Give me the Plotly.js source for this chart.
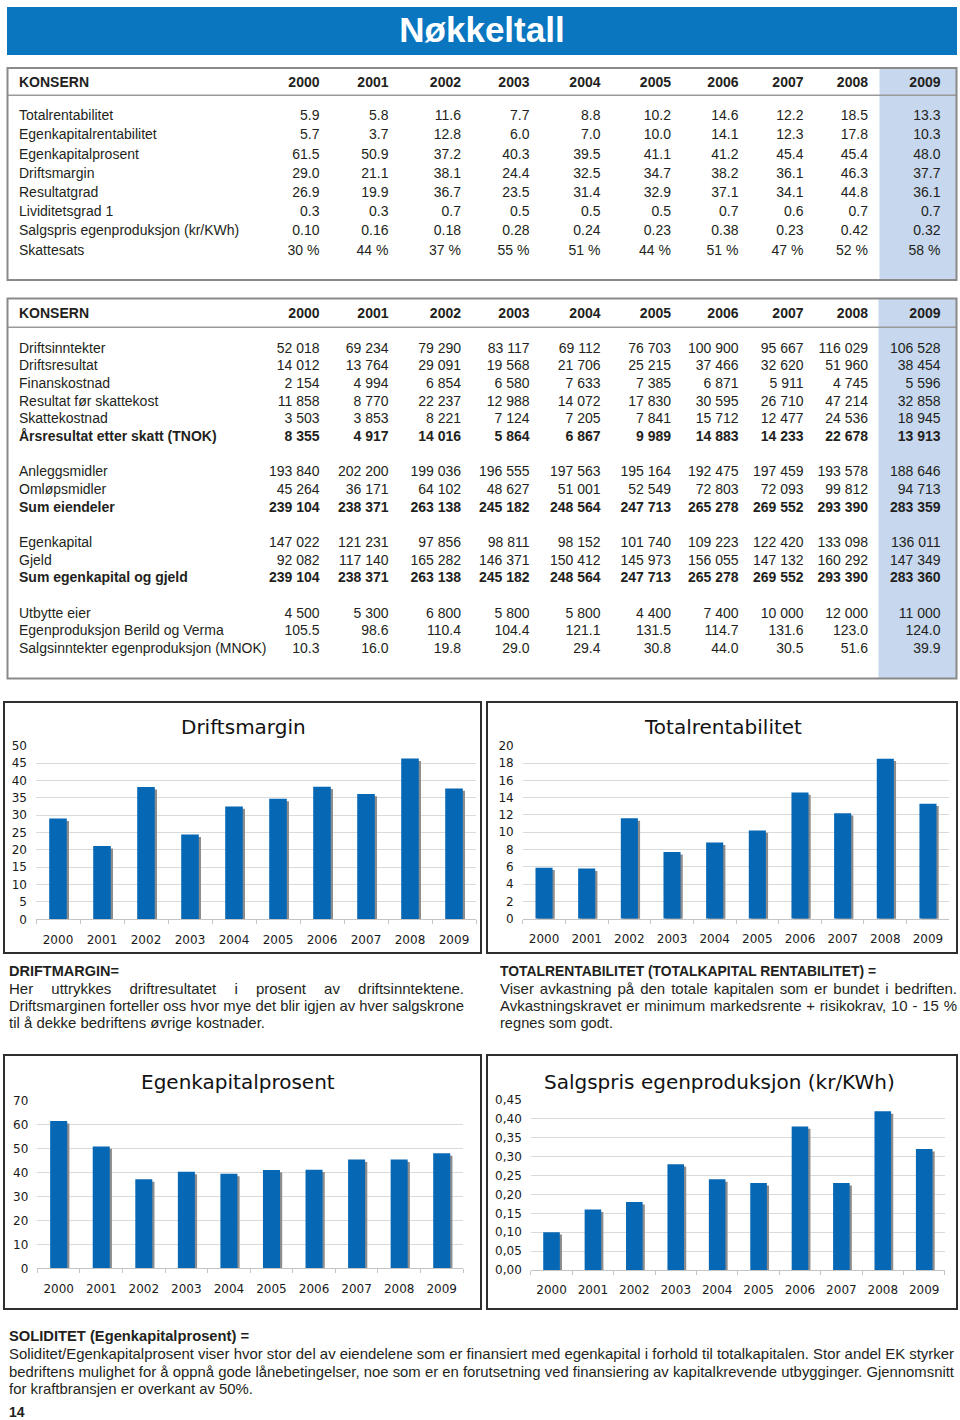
<!DOCTYPE html>
<html><head><meta charset="utf-8">
<script src="https://cdn.plot.ly/plotly-3.0.1.min.js"></script>
<style>
html,body{margin:0;padding:0;background:#fff;}
#page{position:relative;width:960px;height:1420px;overflow:hidden;background:#fff;}
#plot{position:absolute;left:0;top:0;width:960px;height:1420px;}
.banner{position:absolute;left:7px;top:7px;width:950px;height:48px;background:#0a76bf;color:#fff;font-family:'Liberation Sans',Arial,sans-serif;font-weight:bold;font-size:35px;line-height:46px;text-align:center;z-index:2;}
.ln{position:absolute;white-space:nowrap;color:#231f20;font-family:'Liberation Sans',Arial,sans-serif;z-index:2;transform-origin:0 50%;}
</style></head>
<body><div id="page"><div id="plot"></div><div class="banner">Nøkkeltall</div></div>
<script>
// ---------------- DATA ----------------
const years = ['2000','2001','2002','2003','2004','2005','2006','2007','2008','2009'];

// Table 1 (nøkkeltall)
const totalrentabilitet       = [5.9, 5.8, 11.6, 7.7, 8.8, 10.2, 14.6, 12.2, 18.5, 13.3];
const egenkapitalrentabilitet = [5.7, 3.7, 12.8, 6.0, 7.0, 10.0, 14.1, 12.3, 17.8, 10.3];
const egenkapitalprosent      = [61.5, 50.9, 37.2, 40.3, 39.5, 41.1, 41.2, 45.4, 45.4, 48.0];
const driftsmargin            = [29.0, 21.1, 38.1, 24.4, 32.5, 34.7, 38.2, 36.1, 46.3, 37.7];
const resultatgrad            = [26.9, 19.9, 36.7, 23.5, 31.4, 32.9, 37.1, 34.1, 44.8, 36.1];
const likviditetsgrad1        = [0.3, 0.3, 0.7, 0.5, 0.5, 0.5, 0.7, 0.6, 0.7, 0.7];
const salgspris               = [0.10, 0.16, 0.18, 0.28, 0.24, 0.23, 0.38, 0.23, 0.42, 0.32];
const skattesats              = [30, 44, 37, 55, 51, 44, 51, 47, 52, 58];
const table1Labels = ['Totalrentabilitet','Egenkapitalrentabilitet','Egenkapitalprosent','Driftsmargin','Resultatgrad','Lividitetsgrad 1','Salgspris egenproduksjon (kr/KWh)','Skattesats'];

// Table 2 (regnskap)
const driftsinntekter   = [52018, 69234, 79290, 83117, 69112, 76703, 100900, 95667, 116029, 106528];
const driftsresultat    = [14012, 13764, 29091, 19568, 21706, 25215, 37466, 32620, 51960, 38454];
const finanskostnad     = [2154, 4994, 6854, 6580, 7633, 7385, 6871, 5911, 4745, 5596];
const resultatForSkatt  = [11858, 8770, 22237, 12988, 14072, 17830, 30595, 26710, 47214, 32858];
const skattekostnad     = [3503, 3853, 8221, 7124, 7205, 7841, 15712, 12477, 24536, 18945];
const aarsresultat      = [8355, 4917, 14016, 5864, 6867, 9989, 14883, 14233, 22678, 13913];
const anleggsmidler     = [193840, 202200, 199036, 196555, 197563, 195164, 192475, 197459, 193578, 188646];
const omlopsmidler      = [45264, 36171, 64102, 48627, 51001, 52549, 72803, 72093, 99812, 94713];
const sumEiendeler      = [239104, 238371, 263138, 245182, 248564, 247713, 265278, 269552, 293390, 283359];
const egenkapital       = [147022, 121231, 97856, 98811, 98152, 101740, 109223, 122420, 133098, 136011];
const gjeld             = [92082, 117140, 165282, 146371, 150412, 145973, 156055, 147132, 160292, 147349];
const sumEkOgGjeld      = [239104, 238371, 263138, 245182, 248564, 247713, 265278, 269552, 293390, 283360];
const utbytteEier       = [4500, 5300, 6800, 5800, 5800, 4400, 7400, 10000, 12000, 11000];
const egenproduksjon    = [105.5, 98.6, 110.4, 104.4, 121.1, 131.5, 114.7, 131.6, 123.0, 124.0];
const salgsinntekterEgen= [10.3, 16.0, 19.8, 29.0, 29.4, 30.8, 44.0, 30.5, 51.6, 39.9];
const table2Labels = ['Driftsinntekter','Driftsresultat','Finanskostnad','Resultat før skattekost','Skattekostnad','Årsresultat etter skatt (TNOK)','Anleggsmidler','Omløpsmidler','Sum eiendeler','Egenkapital','Gjeld','Sum egenkapital og gjeld','Utbytte eier','Egenproduksjon Berild og Verma','Salgsinntekter egenproduksjon (MNOK)'];
const tableHeader = 'KONSERN';

const chartTitles = ['Driftsmargin','Totalrentabilitet','Egenkapitalprosent','Salgspris egenproduksjon (kr/KWh)'];

const notes = [
  {head:'DRIFTMARGIN=', lines:['Her uttrykkes driftresultatet i prosent av driftsinntektene.','Driftsmarginen forteller oss hvor mye det blir igjen av hver salgskrone','til å dekke bedriftens øvrige kostnader.']},
  {head:'TOTALRENTABILITET (TOTALKAPITAL RENTABILITET) =', lines:['Viser avkastning på den totale kapitalen som er bundet i bedriften.','Avkastningskravet er minimum markedsrente + risikokrav, 10 - 15 %','regnes som godt.']},
  {head:'SOLIDITET (Egenkapitalprosent) =', lines:['Soliditet/Egenkapitalprosent viser hvor stor del av eiendelene som er finansiert med egenkapital i forhold til totalkapitalen. Stor andel EK styrker','bedriftens mulighet for å oppnå gode lånebetingelser, noe som er en forutsetning ved finansiering av kapitalkrevende utbygginger. Gjennomsnitt','for kraftbransjen er overkant av 50%.']}
];
const pageNumber = '14';

// ---------------- STYLE / LAYOUT ----------------
const W = 960, H = 1420;
const px = x => x / W, py = y => 1 - y / H;
const TFONT = "'Liberation Sans',Arial,sans-serif";
const CFONT = "'DejaVu Sans',sans-serif";
const INK = '#231f20';
const COL_RIGHT = [319.5, 388.5, 461, 529.5, 600.5, 671, 738.5, 803.5, 868, 940.5];
const LABEL_X = 19;

const f1 = v => v.toFixed(1), f2 = v => v.toFixed(2), fp = v => v + ' %';
const fi = v => String(v).replace(/\B(?=(\d{3})+(?!\d))/g, ' ');

const table1Rows = [
  [totalrentabilitet, f1],[egenkapitalrentabilitet, f1],[egenkapitalprosent, f1],[driftsmargin, f1],
  [resultatgrad, f1],[likviditetsgrad1, f1],[salgspris, f2],[skattesats, fp]
].map((r, i) => ({label: table1Labels[i], values: r[0], fmt: r[1], bold: false}));
const boldSet = new Set(['Årsresultat etter skatt (TNOK)','Sum eiendeler','Sum egenkapital og gjeld']);
const table2Rows = [
  [driftsinntekter, fi],[driftsresultat, fi],[finanskostnad, fi],[resultatForSkatt, fi],[skattekostnad, fi],[aarsresultat, fi],
  [anleggsmidler, fi],[omlopsmidler, fi],[sumEiendeler, fi],
  [egenkapital, fi],[gjeld, fi],[sumEkOgGjeld, fi],
  [utbytteEier, fi],[egenproduksjon, f1],[salgsinntekterEgen, f1]
].map((r, i) => ({label: table2Labels[i], values: r[0], fmt: r[1], bold: boldSet.has(table2Labels[i])}));
const T1_SLOTS = [0,1,2,3,4,5,6,7];
const T2_SLOTS = [0,1,2,3,4,5,7,8,9,11,12,13,15,16,17];

function tableTraces(rows, slots, headY, y0, step) {
  const lx = [], ly = [], lt = [], nx = [], ny = [], nt = [];
  const B = s => '<b>' + s + '</b>';
  lx.push(LABEL_X); ly.push(headY); lt.push(B(tableHeader));
  years.forEach((yr, c) => { nx.push(COL_RIGHT[c]); ny.push(headY); nt.push(B(yr)); });
  rows.forEach((r, i) => {
    const y = y0 + slots[i] * step;
    lx.push(LABEL_X); ly.push(y); lt.push(r.bold ? B(r.label) : r.label);
    r.values.forEach((v, c) => { const s = r.fmt(v); nx.push(COL_RIGHT[c]); ny.push(y); nt.push(r.bold ? B(s) : s); });
  });
  const base = {type:'scatter', mode:'text', xaxis:'x5', yaxis:'y5', cliponaxis:false, hoverinfo:'skip',
                textfont:{family:TFONT, size:14, color:INK}, showlegend:false};
  return [Object.assign({}, base, {x:lx, y:ly, text:lt, textposition:'middle right'}),
          Object.assign({}, base, {x:nx, y:ny, text:nt, textposition:'middle left'})];
}

const charts = [
  {values: driftsmargin,       ymax:50,   dtick:5,    fmt:'',    plot:[36, 745.7, 476, 919.3],      title:[243, 727],   frame:[4, 702, 481, 953]},
  {values: totalrentabilitet,  ymax:20,   dtick:2,    fmt:'',    plot:[522.7, 745.7, 949.3, 918.7], title:[723, 727],   frame:[487, 702, 957, 953]},
  {values: egenkapitalprosent, ymax:70,   dtick:10,   fmt:'',    plot:[37.4, 1100.7, 463, 1268.3],  title:[237.5, 1082],frame:[4, 1055, 481, 1309]},
  {values: salgspris,          ymax:0.45, dtick:0.05, fmt:'.2f', plot:[530.8, 1100, 944.9, 1270],   title:[719, 1082],  frame:[487, 1055, 957, 1309]}
];
const BAR_W = 0.40, BLUE = '#0667b5', SHADOW = '#8d8d8d';

const traces = [];
const layout = {
  width: W, height: H, margin:{l:0, r:0, t:0, b:0}, paper_bgcolor:'rgba(0,0,0,0)', plot_bgcolor:'rgba(0,0,0,0)',
  showlegend:false, barmode:'overlay', separators:', ', shapes:[], annotations:[],
  xaxis5:{domain:[0,1], range:[0,W], visible:false, fixedrange:true},
  yaxis5:{domain:[py(690), py(60)], range:[690,60], visible:false, fixedrange:true}
};

charts.forEach((c, i) => {
  const k = i + 1, [L, T, R, Bt] = c.plot;
  const spacing = (R - L) / years.length;
  const dx = 2.2 / spacing, dy = 2.4 * c.ymax / (Bt - T);
  traces.push({type:'bar', x:years, y:c.values, xaxis:'x'+k, yaxis:'y'+k, width:BAR_W, offset:-BAR_W/2 + dx, base:-dy,
               marker:{color:SHADOW, line:{width:0}}, hoverinfo:'skip'});
  traces.push({type:'bar', x:years, y:c.values, xaxis:'x'+k, yaxis:'y'+k, width:BAR_W, offset:-BAR_W/2,
               marker:{color:BLUE, line:{width:0}}, hoverinfo:'skip'});
  layout['xaxis'+k] = {domain:[px(L), px(R)], anchor:'y'+k, type:'category', range:[-0.5, 9.5], fixedrange:true,
    showgrid:false, showline:true, linecolor:'#c4c4c4', linewidth:1, ticks:'outside', tickson:'boundaries',
    ticklen:4, tickcolor:'#c4c4c4', ticklabelstandoff:9, tickfont:{family:CFONT, size:12, color:'#1a1a1a'}};
  layout['yaxis'+k] = {domain:[py(Bt), py(T)], anchor:'x'+k, range:[0, c.ymax], dtick:c.dtick, tick0:0, tickformat:c.fmt,
    fixedrange:true, showgrid:true, gridcolor:'#dadada', gridwidth:1, zeroline:false, showline:false, ticks:'',
    ticklabelstandoff:8, tickfont:{family:CFONT, size:12, color:'#1a1a1a'}};
  layout.annotations.push({xref:'paper', yref:'paper', x:px(c.title[0]), y:py(c.title[1]), xanchor:'center', yanchor:'middle',
    text:chartTitles[i], showarrow:false, font:{family:CFONT, size:20, color:'#111'}});
  const [fl, ft, fr, fb] = c.frame;
  layout.shapes.push({type:'rect', xref:'paper', yref:'paper', x0:px(fl), x1:px(fr), y0:py(fb), y1:py(ft),
    line:{color:'#2e2e2e', width:2}, fillcolor:'rgba(0,0,0,0)'});
});

// tables: frames, highlight, header line
function tableShapes(top, bottom, hlLeft, headLine) {
  return [
    {type:'rect', xref:'x5', yref:'y5', x0:hlLeft, x1:956, y0:top, y1:bottom, fillcolor:'#c7d7ee', line:{width:0}, layer:'below'},
    {type:'line', xref:'x5', yref:'y5', x0:7.5, x1:956.5, y0:headLine, y1:headLine, line:{color:'#9a9a9a', width:1.5}},
    {type:'rect', xref:'x5', yref:'y5', x0:7.5, x1:956.5, y0:top, y1:bottom, line:{color:'#8a8a8a', width:2}, fillcolor:'rgba(0,0,0,0)'}
  ];
}
layout.shapes.push(...tableShapes(68, 280, 879.5, 95.3));
layout.shapes.push(...tableShapes(298.5, 678.5, 878.5, 327.3));
traces.push(...tableTraces(table1Rows, T1_SLOTS, 83.3, 116.7, 19.2));
traces.push(...tableTraces(table2Rows, T2_SLOTS, 314, 349.3, 17.65));

Plotly.newPlot('plot', traces, layout, {staticPlot:true, displayModeBar:false});

// ---------------- NOTES (HTML text) ----------------
const page = document.getElementById('page');
const lineEls = [];
// mode: 'justify' = fill width using word spacing (or squeeze), 'fit' = scale to the given width
function addLine(txt, x, yc, w, size, bold, mode) {
  const d = document.createElement('div');
  d.className = 'ln';
  d.style.left = x + 'px'; d.style.top = (yc - 8) + 'px'; d.style.height = '16px'; d.style.lineHeight = '16px';
  d.style.fontSize = size + 'px'; d.style.fontWeight = bold ? 'bold' : 'normal';
  d.textContent = txt;
  page.appendChild(d);
  lineEls.push({d, w, mode});
}
function layoutLines() {
  lineEls.forEach(({d, w, mode}) => {
    d.style.wordSpacing = '0px'; d.style.transform = 'none';
    const nat = d.getBoundingClientRect().width;
    const spaces = (d.textContent.match(/ /g) || []).length;
    if (mode === 'justify' && nat < w && spaces) d.style.wordSpacing = ((w - nat) / spaces) + 'px';
    else d.style.transform = 'scaleX(' + (w / nat) + ')';
  });
}
const noteBoxes = [
  {x:9,   w:455, ys:[971, 989, 1006, 1023], size:15, headW:110, lastW:256},
  {x:500, w:457, ys:[971, 989, 1006, 1023], size:15, headW:376, lastW:113},
  {x:9,   w:945, ys:[1336, 1354, 1371.5, 1389], size:15, headW:240, lastW:244}
];
notes.forEach((n, i) => {
  const b = noteBoxes[i];
  addLine(n.head, b.x, b.ys[0], b.headW, b.size, true, 'fit');
  n.lines.forEach((t, j) => {
    const last = j === n.lines.length - 1;
    addLine(t, b.x, b.ys[j + 1], last ? b.lastW : b.w, b.size, false, last ? 'fit' : 'justify');
  });
});
addLine(pageNumber, 9, 1412, 15.5, 15, true, 'fit');
layoutLines();
if (document.fonts && document.fonts.ready) document.fonts.ready.then(layoutLines);
</script></body></html>
